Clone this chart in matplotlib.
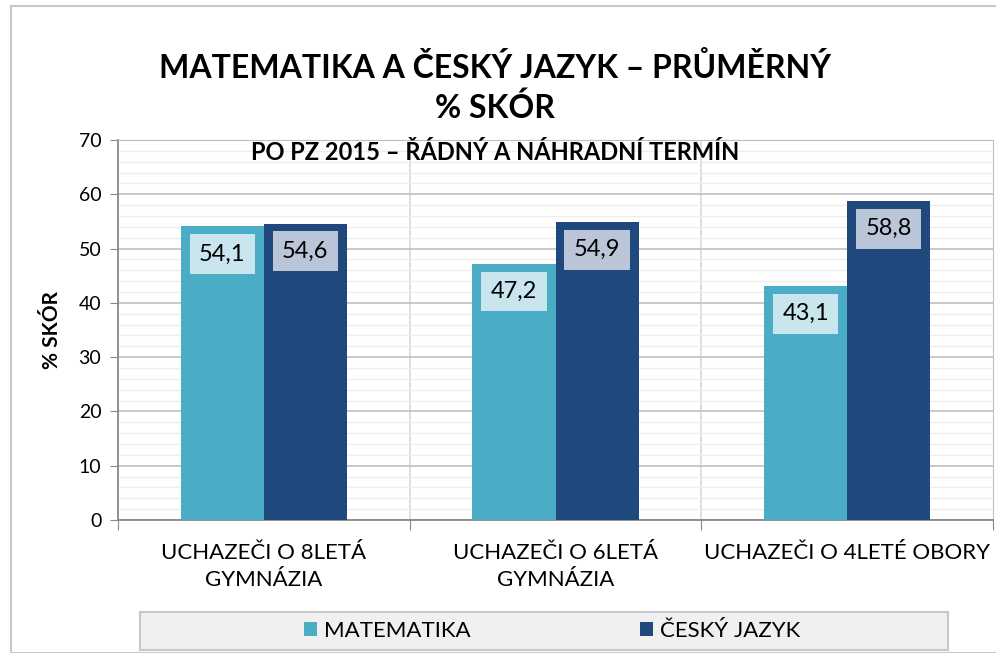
import matplotlib.pyplot as plt
import numpy as np
from matplotlib.patches import Rectangle

plt.rcParams['font.family'] = ['Lato', 'DejaVu Sans']

categories = ['UCHAZEČI O 8LETÁ\nGYMNÁZIA', 'UCHAZEČI O 6LETÁ\nGYMNÁZIA', 'UCHAZEČI O 4LETÉ OBORY']
matematika = [54.1, 47.2, 43.1]
cesky_jazyk = [54.6, 54.9, 58.8]

c_mat = '#4BACC6'
c_cj = '#1F497D'

fig = plt.figure(figsize=(9.96, 6.53), dpi=100)
ax = fig.add_axes([118/996, 1-520/653, (993-118)/996, 380/653])

# outer chart frame
fig.patches.append(Rectangle((11/996, 0), 1.1, 1-6/653, transform=fig.transFigure,
                             fill=False, edgecolor='#C8C8C8', linewidth=1.5))

x = np.arange(len(categories))
w = 0.285
b1 = ax.bar(x - w/2, matematika, w, color=c_mat, label='MATEMATIKA', zorder=3)
b2 = ax.bar(x + w/2, cesky_jazyk, w, color=c_cj, label='ČESKÝ JAZYK', zorder=3)

# data labels inside the top of each bar
for bars, vals, fc in [(b1, matematika, '#C9E6EE'), (b2, cesky_jazyk, '#BAC6D8')]:
    for r, v in zip(bars, vals):
        ax.annotate(f'{v:.1f}'.replace('.', ','), (r.get_x() + r.get_width()/2, v),
                    xytext=(0, -20), textcoords='offset points', ha='center', va='center',
                    fontsize=17, color='black', zorder=4,
                    bbox=dict(boxstyle='square,pad=0.4', fc=fc, ec='none'))

ax.set_ylim(0, 70)
ax.set_xlim(-0.5, 2.5)
ax.set_yticks(range(0, 71, 10))
ax.set_yticks(range(0, 71, 2), minor=True)
ax.tick_params(axis='y', which='major', labelsize=14, length=6, color='#888888', pad=6)
ax.tick_params(axis='y', which='minor', length=0)
ax.grid(axis='y', which='major', color='#BFBFBF', linewidth=1.2, zorder=0)
ax.grid(axis='y', which='minor', color='#EDEDED', linewidth=1, zorder=0)

ax.set_xticks([-0.5, 0.5, 1.5, 2.5])
ax.set_xticklabels([])
ax.tick_params(axis='x', length=7, color='#888888')
for xb in [0.5, 1.5]:
    ax.axvline(xb, color='#D9D9D9', linewidth=1.2, zorder=1)
for i, c in enumerate(categories):
    ax.text(i, -4.3, c, ha='center', va='top', fontsize=16, linespacing=1.4)

for s in ax.spines.values():
    s.set_color('#BFBFBF')
ax.spines['left'].set_color('#888888')
ax.spines['bottom'].set_color('#888888')
ax.spines['left'].set_linewidth(1.3)
ax.spines['bottom'].set_linewidth(1.3)

ax.set_ylabel('% SKÓR', fontsize=15, fontweight='bold', labelpad=12)

fig.text(495/996, 1-68/653, 'MATEMATIKA A ČESKÝ JAZYK – PRŮMĚRNÝ', ha='center', va='center',
         fontsize=23, fontweight='bold')
fig.text(495/996, 1-108/653, '% SKÓR', ha='center', va='center', fontsize=23, fontweight='bold')
fig.text(495/996, 1-153/653, 'PO PZ 2015 – ŘÁDNÝ A NÁHRADNÍ TERMÍN', ha='center', va='center',
         fontsize=17, fontweight='bold')

# legend box
fig.patches.append(Rectangle((140/996, 1-650/653), (948-140)/996, 38/653, transform=fig.transFigure,
                             facecolor='#F0F0F0', edgecolor='#C8C8C8', linewidth=1.5))
leg = fig.legend(handles=[b1, b2], loc='center', bbox_to_anchor=(552/996, 1-631/653), ncol=2,
                 frameon=False, fontsize=16, handlelength=0.6, handleheight=0.6,
                 handletextpad=0.3, columnspacing=7.6)

fig.savefig('out.png', dpi=100)
